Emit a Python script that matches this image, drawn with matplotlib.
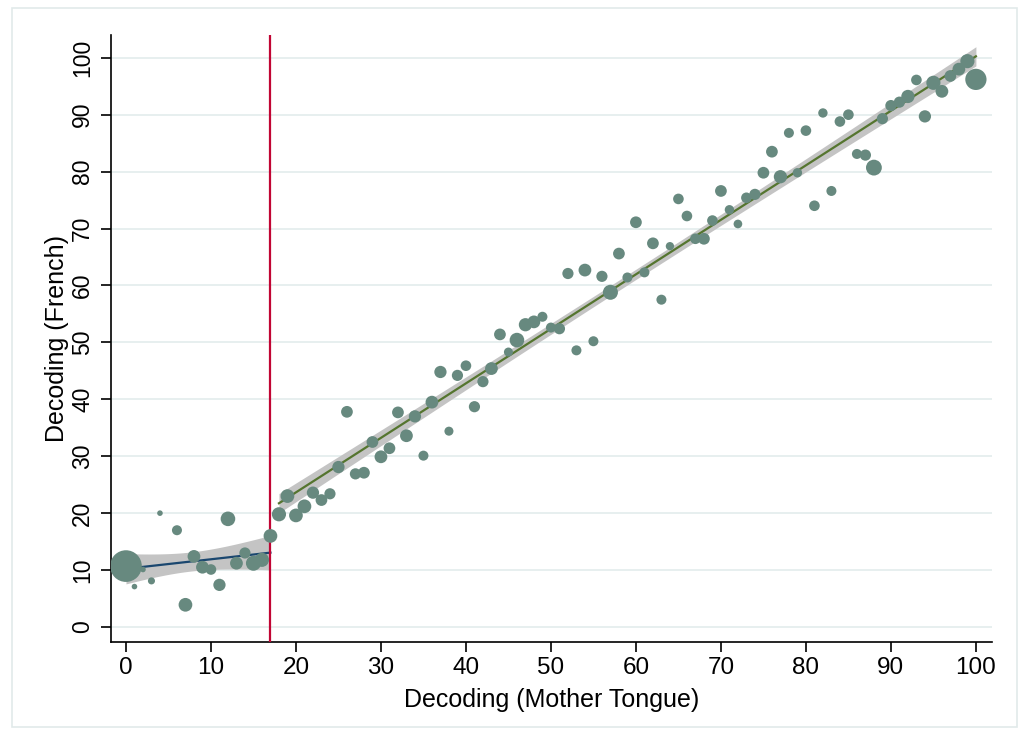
"""
plot.py - Decoding in French vs. decoding in the mother tongue.

Binned scatter (marker area ~ number of pupils) with two linear fits
and 95% confidence bands, split at a threshold of 17.
"""

# ============================================================
# Section 1. Setup and Imports
# ============================================================
import matplotlib

matplotlib.use("Agg")
import matplotlib.pyplot as plt
import numpy as np
from matplotlib.patches import Rectangle

plt.rcParams["font.family"] = ["Liberation Sans", "DejaVu Sans"]

# ============================================================
# Section 2. Data
# ============================================================

# Mother-tongue decoding score (bins). There is no bin at 5.
mother_tongue: list[int] = [0, 1, 2, 3, 4] + list(range(6, 101))

french: list[float] = [
    10.7, 7.1, 10.1, 8.1, 20.0, 17.0, 3.9, 12.4, 10.5, 10.1,  # 0-10
    7.4, 19.0, 11.2, 13.0, 11.2, 11.8, 16.0,  # 11-17
    19.8, 23.0, 19.6, 21.2, 23.6, 22.3, 23.4, 28.1, 37.8, 26.9,  # 18-27
    27.1, 32.5, 29.9, 31.4, 37.7, 33.6, 37.0, 30.1, 39.5, 44.8,  # 28-37
    34.4, 44.2, 45.9, 38.7, 43.1, 45.4, 51.4, 48.3, 50.4, 53.1,  # 38-47
    53.6, 54.5, 52.6, 52.4, 62.1, 48.6, 62.7, 50.2, 61.6, 58.8,  # 48-57
    65.6, 61.4, 71.1, 62.3, 67.4, 57.5, 66.9, 75.2, 72.2, 68.2,  # 58-67
    68.2, 71.4, 76.6, 73.3, 70.8, 75.4, 76.0, 79.8, 83.5, 79.1,  # 68-77
    86.8, 79.8, 87.2, 74.0, 90.3, 76.6, 88.8, 90.0, 83.1, 82.9,  # 78-87
    80.7, 89.3, 91.6, 92.2, 93.2, 96.1, 89.7, 95.6, 94.1, 96.8,  # 88-97
    98.0, 99.4, 96.2,  # 98-100
]

# Pupils per bin (drives marker area and fit weights).
pupils: list[float] = [
    80, 2.5, 2.5, 4, 2.5, 8, 15, 13, 13, 9,
    12, 17, 13, 10, 18, 16, 15,
    16, 15, 15, 15, 12, 11, 10, 12, 11, 10,
    11, 11, 13, 11, 11, 13, 12, 8, 13, 12,
    6.5, 10, 9, 10, 10, 13, 11, 6.5, 17, 14,
    13, 8, 8, 10, 10, 8, 13, 8, 10, 18,
    11, 8, 11, 8, 11, 8, 5.5, 9, 9, 9,
    11, 9, 11, 7, 6, 9, 10, 11, 11, 14,
    8, 7, 9, 9, 7, 8, 9, 9, 8, 10,
    20, 10, 10, 10, 14, 9, 12, 16, 13, 11,
    13, 16, 36,
]

threshold: int = 17

x = np.array(mother_tongue, dtype=float)
y = np.array(french)
w = np.array(pupils)


# ============================================================
# Section 3. Weighted linear fit with 95% CI (like Stata lfitci)
# ============================================================
def lfit_ci(xs, ys, ws, grid):
    ws = ws * len(ws) / ws.sum()
    X = np.column_stack([np.ones_like(xs), xs])
    XtWX = X.T @ (X * ws[:, None])
    beta = np.linalg.solve(XtWX, X.T @ (ws * ys))
    resid = ys - X @ beta
    s2 = np.sum(ws * resid**2) / (len(xs) - 2)
    G = np.column_stack([np.ones_like(grid), grid])
    se = np.sqrt(s2 * np.einsum("ij,jk,ik->i", G, np.linalg.inv(XtWX), G))
    fit = G @ beta
    return fit, fit - 1.98 * se, fit + 1.98 * se


low = x <= threshold
high = x > threshold
grid_low = np.linspace(x[low].min(), x[low].max(), 100)
grid_high = np.linspace(x[high].min(), x[high].max(), 100)
fit_low, lo_low, hi_low = lfit_ci(x[low], y[low], w[low], grid_low)
fit_high, lo_high, hi_high = lfit_ci(x[high], y[high], w[high], grid_high)

# ============================================================
# Section 4. Draw the chart
# ============================================================
fig = plt.figure(figsize=(10.24, 7.35), dpi=100)
ax = fig.add_axes([0.1084, 0.1265, 0.8604, 0.8259])

# light outer frame of the graph region
fig.patches.append(
    Rectangle((0.012, 0.011), 0.981, 0.978, transform=fig.transFigure,
              fill=False, edgecolor="#e1eaea", linewidth=1.2)
)

ax.fill_between(grid_low, lo_low, hi_low, color="#c4c4c4", linewidth=0, zorder=2)
ax.fill_between(grid_high, lo_high, hi_high, color="#c4c4c4", linewidth=0, zorder=2)
ax.plot(grid_low, fit_low, color="#1a476f", linewidth=1.6, zorder=3)
ax.plot(grid_high, fit_high, color="#55752f", linewidth=1.6, zorder=3)
ax.axvline(threshold, color="#c10534", linewidth=1.6, zorder=3)

ax.scatter(x, y, s=w * 6.5, color="#67897f", edgecolors="none", zorder=4)

ax.set_xlim(-1.76, 101.9)
ax.set_ylim(-2.64, 104.0)
ax.set_xticks(range(0, 101, 10))
ax.set_yticks(range(0, 101, 10))
ax.tick_params(axis="x", labelsize=17.5, length=7, width=1.2, pad=4)
ax.tick_params(axis="y", labelsize=16.5, length=7, width=1.2, pad=5)
for label in ax.get_yticklabels():
    label.set_rotation(90)
    label.set_va("center")

ax.grid(axis="y", color="#e3ecec", linewidth=1.2, zorder=0)
ax.set_axisbelow(True)
for side in ["top", "right"]:
    ax.spines[side].set_visible(False)
for side in ["left", "bottom"]:
    ax.spines[side].set_linewidth(1.2)

ax.set_xlabel("Decoding (Mother Tongue)", fontsize=18, labelpad=6)
ax.set_ylabel("Decoding (French)", fontsize=18, labelpad=2)

fig.savefig("out.png", dpi=100)
